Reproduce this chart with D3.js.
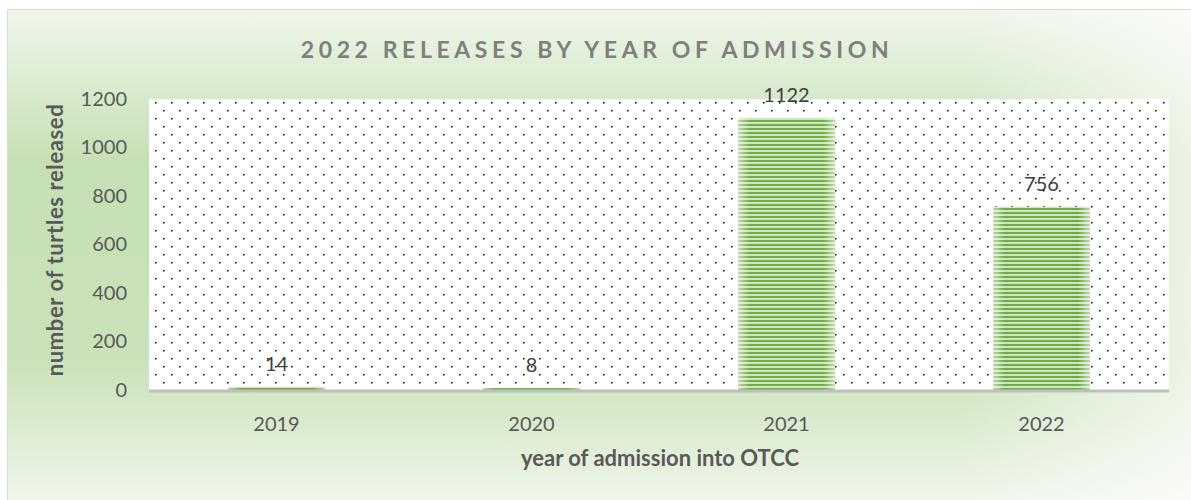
<!DOCTYPE html>
<html>
<head>
<meta charset="utf-8">
<script src="https://cdn.jsdelivr.net/npm/d3@7"></script>
<style>
  body { margin: 0; background: #fff; }
  svg text { font-family: Lato, "Open Sans", sans-serif; }
</style>
</head>
<body>
<div id="chart"></div>
<script>
// Chart data
const years = ["2019", "2020", "2021", "2022"];
const released = [14, 8, 1122, 756];
const yTicks = [0, 200, 400, 600, 800, 1000, 1200];

// Render Bar Chart On SVG
function drawBarChart() {
  let w = 1191, h = 500;
  let plot = { left: 149, right: 1169, top: 99, bottom: 390 };

  let svg = d3.select("#chart").append("svg").attr("width", w).attr("height", h);
  let defs = svg.append("defs");

  // Background gradient (light at top & bottom, green band in the middle)
  let bg = defs.append("linearGradient").attr("id", "bgGrad").attr("x1", 0).attr("y1", 0).attr("x2", 0).attr("y2", 1);
  [["0%", "#eff6eb"], ["18%", "#d6e9ca"], ["30%", "#c6e0b5"], ["70%", "#c9e2b9"], ["82%", "#d9eacd"], ["100%", "#f1f7ee"]].forEach(s =>
    bg.append("stop").attr("offset", s[0]).attr("stop-color", s[1]));
  let fade = defs.append("linearGradient").attr("id", "fadeGrad").attr("x1", 0).attr("y1", 0).attr("x2", 1).attr("y2", 0);
  [["0%", 0], ["80%", 0], ["100%", 0.65]].forEach(s =>
    fade.append("stop").attr("offset", s[0]).attr("stop-color", "#ffffff").attr("stop-opacity", s[1]));

  // Dotted plot pattern
  let dots = defs.append("pattern").attr("id", "dots").attr("patternUnits", "userSpaceOnUse")
    .attr("x", plot.left).attr("y", plot.top).attr("width", 16).attr("height", 16);
  dots.append("rect").attr("width", 16).attr("height", 16).attr("fill", "#fff");
  dots.append("rect").attr("x", 6).attr("y", 3).attr("width", 1.5).attr("height", 1.5).attr("fill", "#000");
  dots.append("rect").attr("x", 14).attr("y", 11).attr("width", 1.5).attr("height", 1.5).attr("fill", "#000");

  // Striped bar pattern
  let stripes = defs.append("pattern").attr("id", "stripes").attr("patternUnits", "userSpaceOnUse")
    .attr("width", 8).attr("height", 4);
  stripes.append("rect").attr("width", 8).attr("height", 4).attr("fill", "#cfe5c0");
  stripes.append("rect").attr("y", 0).attr("width", 8).attr("height", 2).attr("fill", "#70ad47");
  let edge = defs.append("linearGradient").attr("id", "edgeGrad").attr("x1", 0).attr("y1", 0).attr("x2", 1).attr("y2", 0);
  [["0%", 0.55], ["12%", 0], ["88%", 0], ["100%", 0.55]].forEach(s =>
    edge.append("stop").attr("offset", s[0]).attr("stop-color", "#ffffff").attr("stop-opacity", s[1]));

  // Chart frame
  svg.append("rect").attr("x", 7.5).attr("y", 9.5).attr("width", w).attr("height", h)
    .attr("fill", "url(#bgGrad)").attr("stroke", "#d9d9d9");
  svg.append("rect").attr("x", 8).attr("y", 10).attr("width", w).attr("height", h).attr("fill", "url(#fadeGrad)");

  // Scales
  let xScale = d3.scaleBand().domain(years).range([plot.left, plot.right]).paddingInner(0.62).paddingOuter(0.31);
  let yScale = d3.scaleLinear().domain([0, 1200]).range([plot.bottom, plot.top]);

  // Plot area
  svg.append("rect").attr("x", plot.left).attr("y", plot.top)
    .attr("width", plot.right - plot.left).attr("height", plot.bottom - plot.top).attr("fill", "url(#dots)");

  // Bars
  let bars = svg.append("g").selectAll("g").data(years).enter().append("g");
  bars.append("rect").attr("x", d => xScale(d)).attr("width", xScale.bandwidth())
    .attr("y", (d, i) => yScale(released[i])).attr("height", (d, i) => yScale(0) - yScale(released[i]))
    .attr("fill", "url(#stripes)");
  bars.append("rect").attr("x", d => xScale(d)).attr("width", xScale.bandwidth())
    .attr("y", (d, i) => yScale(released[i])).attr("height", (d, i) => yScale(0) - yScale(released[i]))
    .attr("fill", "url(#edgeGrad)");

  // X axis line
  svg.append("line").attr("x1", plot.left).attr("x2", plot.right).attr("y1", plot.bottom + 1).attr("y2", plot.bottom + 1)
    .attr("stroke", "#bfbfbf").attr("stroke-width", 3);

  // Data labels
  svg.append("g").selectAll("text").data(years).enter().append("text")
    .attr("x", d => xScale(d) + xScale.bandwidth() / 2)
    .attr("y", (d, i) => yScale(released[i]) - 16)
    .attr("text-anchor", "middle").attr("font-size", 20).attr("fill", "#404040")
    .text((d, i) => released[i]);

  // Axes
  let xAxis = d3.axisBottom(xScale).tickSize(0).tickPadding(27);
  let yAxis = d3.axisLeft(yScale).tickValues(yTicks).tickFormat(d3.format("d")).tickSize(0).tickPadding(22);
  let gx = svg.append("g").attr("transform", "translate(0," + plot.bottom + ")").call(xAxis);
  let gy = svg.append("g").attr("transform", "translate(" + plot.left + ",0)").call(yAxis);
  [gx, gy].forEach(g => {
    g.select(".domain").remove();
    g.selectAll("text").attr("font-size", 20).attr("fill", "#595959").style("font-family", "Lato, 'Open Sans', sans-serif");
  });

  // Title
  svg.append("text").text("2022 RELEASES BY YEAR OF ADMISSION").attr("x", 597).attr("y", 58)
    .attr("text-anchor", "middle").attr("font-size", 23).attr("font-weight", "bold")
    .attr("letter-spacing", 4.6).attr("fill", "#7f7f7f");

  // Axis titles
  svg.append("text").text("year of admission into OTCC").attr("x", plot.left + (plot.right - plot.left) / 2 + 1).attr("y", 466)
    .attr("text-anchor", "middle").attr("font-size", 22).attr("font-weight", "bold").attr("fill", "#595959");
  svg.append("text").text("number of turtles released")
    .attr("transform", "translate(63,240) rotate(-90)")
    .attr("text-anchor", "middle").attr("font-size", 22).attr("font-weight", "bold")
    .attr("letter-spacing", 0.6).attr("fill", "#595959");
}

drawBarChart();
</script>
</body>
</html>
